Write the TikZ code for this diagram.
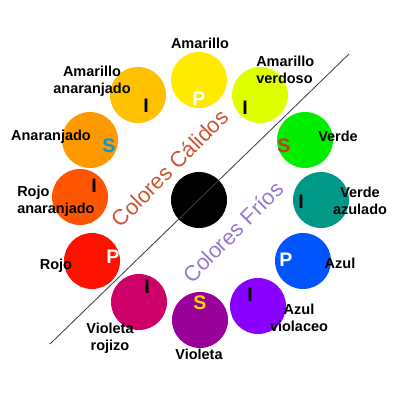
\documentclass[tikz,border=0pt]{standalone}
\usepackage{fontspec}
\setmainfont{Liberation Sans}
\usetikzlibrary{positioning}

\definecolor{amarillo}{HTML}{FFEA00}
\definecolor{amaranar}{HTML}{FFC000}
\definecolor{naranja}{HTML}{FF9900}
\definecolor{rojonar}{HTML}{FF5500}
\definecolor{rojo}{HTML}{FF1100}
\definecolor{violroj}{HTML}{CC0066}
\definecolor{violeta}{HTML}{990099}
\definecolor{azulviol}{HTML}{8800FF}
\definecolor{azul}{HTML}{0055FF}
\definecolor{verdeaz}{HTML}{009988}
\definecolor{verde}{HTML}{00EE00}
\definecolor{amaverde}{HTML}{DDFF00}
\definecolor{calido}{HTML}{CC5533}
\definecolor{frio}{HTML}{9977CC}
\definecolor{sazul}{HTML}{0099DD}
\definecolor{sroja}{HTML}{CC3322}
\definecolor{samarilla}{HTML}{FFDD00}

\begin{document}
\begin{tikzpicture}[
      x=0.025cm, y=-0.025cm,
      disc/.style={circle, minimum size=1.4cm, inner sep=0pt},
      tag/.style={font=\fontsize{10.3}{12.1}\selectfont\bfseries, align=center, inner sep=0pt},
      letter/.style={font=\fontsize{13.9}{14}\selectfont\bfseries, inner sep=0pt},
      group/.style={font=\fontsize{15.6}{16}\selectfont, rotate=45, inner sep=0pt}
    ]
    \useasboundingbox (0,0) rectangle (400,400);

    % colour wheel
    \node[disc, fill=amarillo] (amarillo) at (199,80) {};
    \node[disc, fill=amaranar] (amaranar) at (138,95) {};
    \node[disc, fill=naranja]  (naranja)  at (90,140) {};
    \node[disc, fill=rojonar]  (rojonar)  at (80,197) {};
    \node[disc, fill=rojo]     (rojo)     at (92,261) {};
    \node[disc, fill=violroj]  (violroj)  at (139,302) {};
    \node[disc, fill=violeta]  (violeta)  at (200,320) {};
    \node[disc, fill=azulviol] (azulviol) at (258,306) {};
    \node[disc, fill=azul]     (azul)     at (303,261) {};
    \node[disc, fill=verdeaz]  (verdeaz)  at (321,200) {};
    \node[disc, fill=verde]    (verde)    at (305,140) {};
    \node[disc, fill=amaverde] (amaverde) at (260,95) {};
    \node[disc, fill=black]    (centro)   at (199,200) {};

    % primary / secondary / intermediate
    \node[letter, white] (pAmarillo) at (199,99) {P};
    \node[letter] (iAmaranar) at (146,106) {I};
    \node[letter, text=sazul] (sNaranja) at (109,146) {S};
    \node[letter] (iRojonar) at (94,186) {I};
    \node[letter, white] (pRojo) at (113,257) {P};
    \node[letter] (iViolroj) at (147,287) {I};
    \node[letter, text=samarilla] (sVioleta) at (200,303) {S};
    \node[letter] (iAzulviol) at (250,295) {I};
    \node[letter, white] (pAzul) at (286,260) {P};
    \node[letter] (iVerdeaz) at (301,202) {I};
    \node[letter, text=sroja] (sVerde) at (284,146) {S};
    \node[letter] (iAmaverde) at (245,108) {I};

    % names
    \node[tag] (tAmarillo) at (200,43) {Amarillo};
    \node[tag] (tAmaranar) at (92,81) {Amarillo\\anaranjado};
    \node[tag] (tNaranja) at (51,137) {Anaranjado};
    \node[tag, anchor=west, align=left] (tRojonar) at (17,201) {Rojo\\anaranjado};
    \node[tag] (tRojo) at (56,266) {Rojo};
    \node[tag] (tViolroj) at (110,338) {Violeta\\rojizo};
    \node[tag] (tVioleta) at (199,354) {Violeta};
    \node[tag] (tAzulviol) at (299,318) {Azul\\violaceo};
    \node[tag] (tAzul) at (340,263) {Azul};
    \node[tag] (tVerdeaz) at (360,201) {Verde\\azulado};
    \node[tag] (tVerde) at (338,136) {Verde};
    \node[tag, anchor=west, align=left] (tAmaverde) at (256,70) {Amarillo\\verdoso};

    % warm / cold split
    \coordinate (lineA) at (349,54);
    \coordinate (lineB) at (50,344);
    \draw[black!75, line width=0.6pt] (lineA) -- (lineB);

    \node[group, text=calido] (calidos) at (170,168) {Colores Cálidos};
    \node[group, text=frio] (frios) at (233,232) {Colores Fríos};
  \end{tikzpicture}
\end{document}
